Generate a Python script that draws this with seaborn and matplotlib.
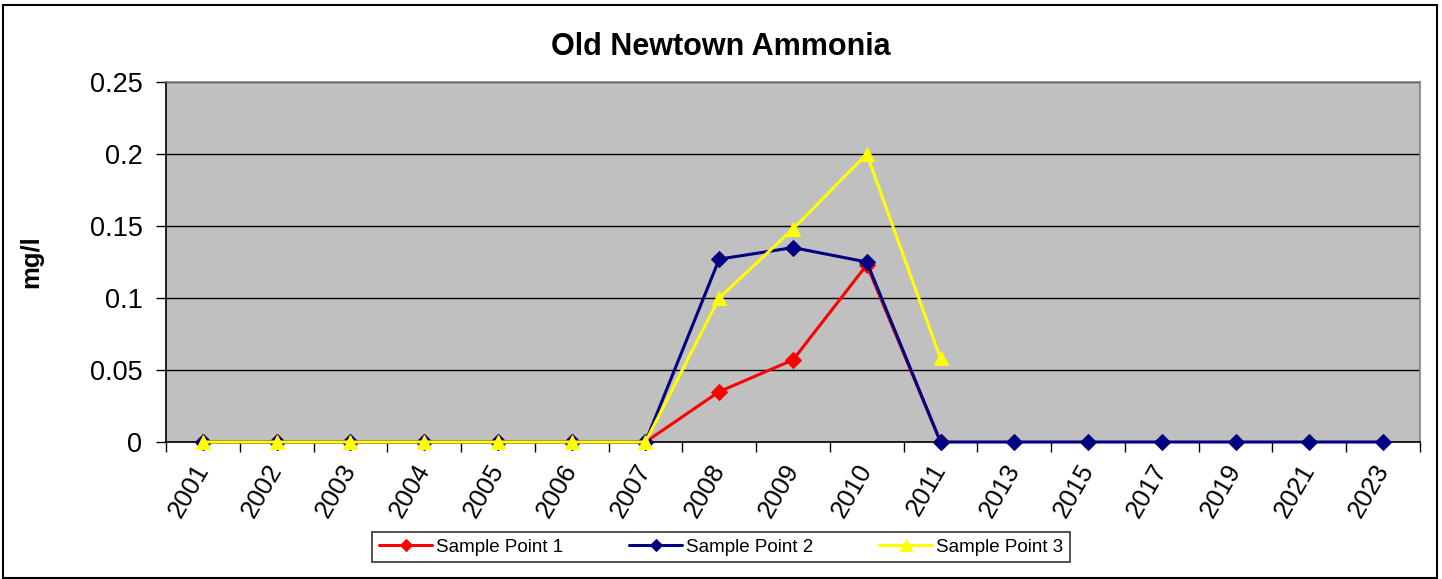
import numpy as np
import pandas as pd
import matplotlib
matplotlib.use("Agg")
import matplotlib.pyplot as plt
from matplotlib.patches import Rectangle
from matplotlib.ticker import FixedLocator, FuncFormatter
import seaborn as sns

years = ["2001", "2002", "2003", "2004", "2005", "2006", "2007", "2008",
         "2009", "2010", "2011", "2013", "2015", "2017", "2019", "2021", "2023"]
sp1 = [0, 0, 0, 0, 0, 0, 0, 0.035, 0.057, 0.123, 0, None, None, None, None, None, None]
sp2 = [0, 0, 0, 0, 0, 0, 0, 0.127, 0.135, 0.125, 0, 0, 0, 0, 0, 0, 0]
sp3 = [0, 0, 0, 0, 0, 0, 0, 0.100, 0.148, 0.200, 0.058, None, None, None, None, None, None]
series_names = ["Sample Point 1", "Sample Point 2", "Sample Point 3"]
y_ticks = [0, 0.05, 0.1, 0.15, 0.2, 0.25]

sns.set_style("white")
plt.rcParams["font.family"] = ["Liberation Sans", "DejaVu Sans"]
plt.rcParams.update({"text.color": "black", "axes.labelcolor": "black",
                     "xtick.color": "black", "ytick.color": "black"})

fig = plt.figure(figsize=(14.42, 5.79), dpi=100)
ax = fig.add_axes([166 / 1442, 1 - 442 / 579, (1420 - 166) / 1442, (442 - 82) / 579])

df = pd.DataFrame({"year": years, "sp1": sp1, "sp2": sp2, "sp3": sp3})
styles = [("sp1", "#FF0000", "D", 8), ("sp2", "#000080", "D", 8), ("sp3", "#FFFF00", "^", 10)]
for (col, color, marker, ms), name in zip(styles, series_names):
    d = df[["year", col]].dropna()
    sns.lineplot(data=d, x="year", y=col, ax=ax, color=color, marker=marker,
                 markersize=ms, markeredgecolor=color, linewidth=2.2,
                 label=name, sort=False, legend=False, clip_on=False, zorder=3)

ax.set_facecolor("#C0C0C0")
ax.set_xlim(-0.5, len(years) - 0.5)
ax.set_ylim(0, 0.25)
ax.yaxis.set_major_locator(FixedLocator(y_ticks))
ax.yaxis.set_major_formatter(FuncFormatter(lambda v, p: f"{v:g}"))
ax.grid(axis="y", color="black", linewidth=1)
ax.grid(axis="x", visible=False)
for s in ax.spines.values():
    s.set_color("#808080")
    s.set_linewidth(1.2)
ax.spines["left"].set_color("black")
ax.spines["bottom"].set_color("black")

ax.set_xticks(range(len(years)))
ax.set_xticklabels(years, rotation=60, ha="right", va="center", rotation_mode="anchor",
                   fontsize=18.5, color="black")
ax.set_xticks(np.arange(-0.5, len(years), 1), minor=True)
ax.tick_params(axis="x", which="major", length=0, pad=17)
ax.tick_params(axis="x", which="minor", length=7, color="black", width=1, direction="out", bottom=True)
ax.tick_params(axis="y", length=7, color="black", width=1, direction="out", left=True,
               labelsize=19.5, pad=10, labelcolor="black")
ax.set_xlabel("")
ax.set_ylabel("mg/l", fontsize=18.5, fontweight="bold", labelpad=33, color="black")

fig.text(721 / 1442, 1 - 47 / 579, "Old Newtown Ammonia", ha="center", va="center",
         fontsize=22, fontweight="bold", color="black")

handles, labels = ax.get_legend_handles_labels()
leg = fig.legend(handles, labels, loc="center", bbox_to_anchor=(721 / 1442, 1 - 547 / 579),
                 ncol=3, frameon=True, fontsize=13.5, handlelength=2.85, handletextpad=0.2,
                 columnspacing=3.5, fancybox=False, edgecolor="black", borderpad=0.35,
                 markerscale=0.8, labelcolor="black")
leg.get_frame().set_linewidth(1.2)

fig.patches.append(Rectangle((3 / 1442, 1 / 579), 1434 / 1442, 573 / 579, transform=fig.transFigure,
                             fill=False, edgecolor="black", linewidth=1.5))

fig.savefig("out.png", dpi=100)
